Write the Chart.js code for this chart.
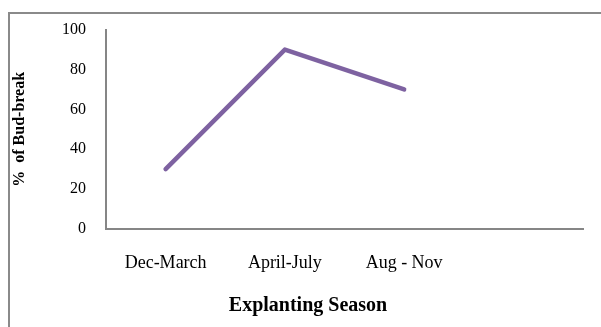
<!DOCTYPE html>
<html>
<head>
<meta charset="utf-8">
<script src="https://cdn.jsdelivr.net/npm/chart.js@4"></script>
<style>
  html, body { margin: 0; padding: 0; background: #fff; }
  #wrap { position: relative; width: 601px; height: 327px; overflow: hidden; }
  #frame {
    position: absolute; left: 8px; top: 12px; width: 620px; height: 340px;
    border-left: 2px solid #8a8a8a; border-top: 2px solid #8a8a8a;
    pointer-events: none;
  }
  canvas { position: absolute; left: 0; top: 0; }
</style>
</head>
<body>
<div id="wrap">
  <canvas id="chartCanvas" width="601" height="327"></canvas>
  <div id="frame"></div>
</div>
<script>
// chart data
const seasons = ['Dec-March', 'April-July', 'Aug - Nov', ''];
const budBreak = [30, 90, 70, null];
const yTicks = [0, 20, 40, 60, 80, 100];

const serif = 'Liberation Serif, Times New Roman, serif';
const axisGray = '#868686';

const ctx = document.getElementById('chartCanvas').getContext('2d');

new Chart(ctx, {
    type: 'line',
    data: {
        labels: seasons,
        datasets: [{
            label: '% of Bud-break',
            data: budBreak,
            borderColor: '#7e62a1',
            borderWidth: 4.5,
            borderCapStyle: 'round',
            borderJoinStyle: 'round',
            pointRadius: 0,
            tension: 0,
            fill: false
        }]
    },
    options: {
        responsive: false,
        animation: false,
        layout: { padding: { left: 33, right: 18, top: 29, bottom: 0 } },
        plugins: {
            legend: { display: false },
            tooltip: { enabled: false },
            title: {
                display: true,
                position: 'bottom',
                text: 'Explanting Season',
                color: '#000',
                font: { family: serif, size: 20, weight: 'bold' },
                padding: { top: 0, bottom: 9 }
            }
        },
        scales: {
            x: {
                offset: true,
                grid: { display: false, drawTicks: false, offset: true },
                border: { display: true, color: axisGray, width: 2 },
                ticks: {
                    color: '#000',
                    padding: 23,
                    maxRotation: 0,
                    font: { family: serif, size: 18 }
                },
                afterFit: scale => { scale.height = 65; }
            },
            y: {
                min: 0,
                max: 100,
                afterBuildTicks: scale => { scale.ticks = yTicks.map(v => ({ value: v })); },
                grid: { display: false, drawTicks: false },
                border: { display: true, color: axisGray, width: 2 },
                ticks: {
                    color: '#000',
                    padding: 20,
                    font: { family: serif, size: 16 }
                },
                title: {
                    display: true,
                    text: '%  of Bud-break',
                    color: '#000',
                    font: { family: serif, size: 16, weight: 'bold' },
                    padding: { top: -22.6, bottom: 0 }
                },
                afterFit: scale => { scale.width = 73; }
            }
        }
    }
});
</script>
</body>
</html>
